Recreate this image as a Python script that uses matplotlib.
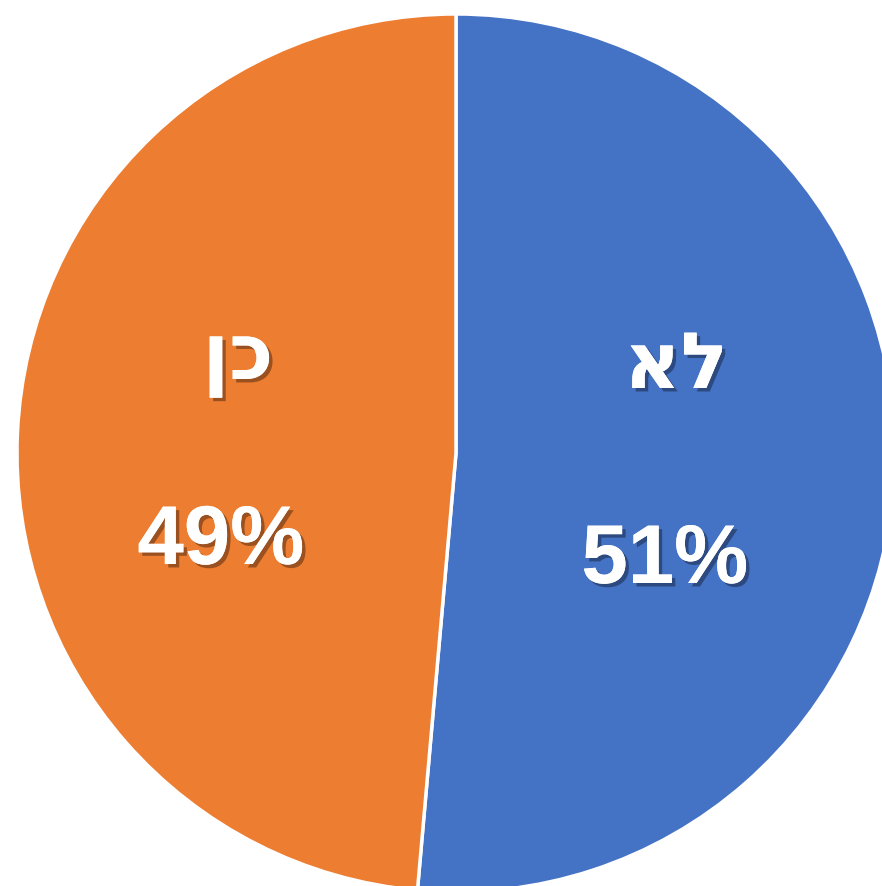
import matplotlib
matplotlib.use("Agg")
import matplotlib.pyplot as plt
import matplotlib.patheffects as pe

categories = ["לא", "כן"]
values = [51.4, 48.6]
colors = ["#4472C4", "#ED7D31"]

W, H = 882, 886
fig = plt.figure(figsize=(W / 100, H / 100), dpi=100)
ax = fig.add_axes([0, 0, 1, 1])

cx, cy, r = 456, H - 453, 439
wedges, _ = ax.pie(values, colors=colors, startangle=90, counterclock=False,
                   center=(cx, cy), radius=r,
                   wedgeprops=dict(edgecolor="white", linewidth=2.5))
ax.set_xlim(0, W)
ax.set_ylim(0, H)
ax.set_aspect("auto")
ax.axis("off")

shadow = [pe.withSimplePatchShadow(offset=(2.5, -2.5), shadow_rgbFace="black", alpha=0.35), pe.Normal()]

total = sum(values)
pct_labels = [f"{round(v / total * 100)}%" for v in values]

name_pos = [(676, 366), (238, 360)]
pct_pos = [(665, 561), (221, 542)]
for cat, pct, (nx, ny), (px, py) in zip(categories, pct_labels, name_pos, pct_pos):
    ax.text(nx, H - ny, cat[::-1], ha="center", va="center", color="white",
            fontsize=56, fontweight="bold", family=["DejaVu Sans"],
            path_effects=shadow)
    ax.text(px, H - py, pct, ha="center", va="center", color="white",
            fontsize=60, fontweight="bold", family=["Liberation Sans", "DejaVu Sans"],
            path_effects=shadow)

fig.savefig("out.png", dpi=100, facecolor="white")
